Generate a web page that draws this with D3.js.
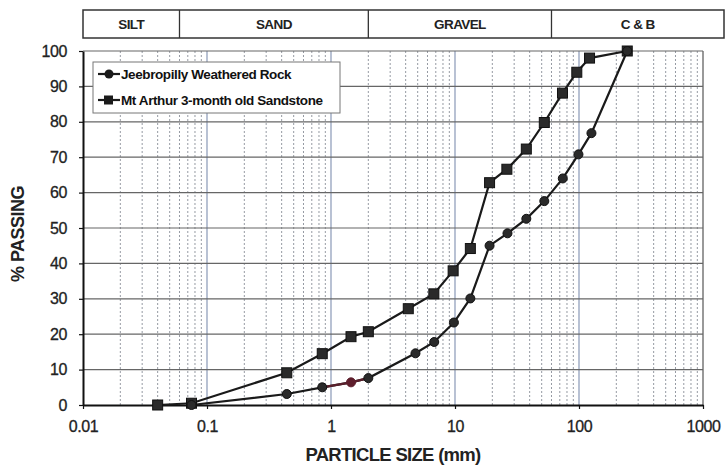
<!DOCTYPE html>
<html>
<head>
<meta charset="utf-8">
<script src="https://cdn.jsdelivr.net/npm/d3@7"></script>
<style>
  body { margin: 0; background: #fff; }
  svg { display: block; font-family: "Liberation Sans", Arial, sans-serif; }
</style>
</head>
<body>
<div id="chart"></div>
<script>
// data
const seriesNames = ["Jeebropilly Weathered Rock", "Mt Arthur 3-month old Sandstone"];
const jeebSize = [0.075, 0.44, 0.85, 1.45, 2.0, 4.8, 6.8, 9.8, 13.3, 19, 26.5, 37.6, 52.5, 74, 99, 126, 245];
const jeebPass = [0, 3.1, 5.0, 6.4, 7.6, 14.6, 17.8, 23.3, 30.1, 45, 48.5, 52.6, 57.6, 64, 70.8, 76.8, 100];
const arthurSize = [0.04, 0.075, 0.44, 0.85, 1.45, 2.0, 4.2, 6.75, 9.66, 13.3, 19.0, 26.2, 37.6, 52.5, 73.6, 96, 121.6, 245];
const arthurPass = [0, 0.5, 9.1, 14.5, 19.3, 20.7, 27.2, 31.4, 37.9, 44.2, 62.8, 66.6, 72.3, 79.8, 88.1, 94.0, 98.0, 100];
const xTicks = [0.01, 0.1, 1, 10, 100, 1000];
const xTickLabels = ["0.01", "0.1", "1", "10", "100", "1000"];
const yTicks = [0, 10, 20, 30, 40, 50, 60, 70, 80, 90, 100];
const bandNames = ["SILT", "SAND", "GRAVEL", "C & B"];
const bandBreaks = [0.06, 2, 60];
const highlightIndex = 3; // the odd maroon point on the Jeebropilly curve

// layout
const W = 726, H = 469;
const plot = { left: 83, right: 703, top: 51, bottom: 405 };
const header = { left: 83, right: 724, top: 10, bottom: 38 };

const svg = d3.select("#chart").append("svg")
    .attr("width", W)
    .attr("height", H);

const x = d3.scaleLog().domain([0.01, 1000]).range([plot.left, plot.right]);
const y = d3.scaleLinear().domain([0, 100]).range([plot.bottom, plot.top]);

// header band
const hdr = svg.append("g");
hdr.append("rect")
    .attr("x", header.left).attr("y", header.top)
    .attr("width", header.right - header.left)
    .attr("height", header.bottom - header.top)
    .attr("fill", "none").attr("stroke", "#333").attr("stroke-width", 1.5);
hdr.selectAll("line.div")
    .data(bandBreaks)
    .enter().append("line")
    .attr("x1", d => x(d)).attr("x2", d => x(d))
    .attr("y1", header.top).attr("y2", header.bottom)
    .attr("stroke", "#333").attr("stroke-width", 1.3);
const edges = [header.left, ...bandBreaks.map(d => x(d)), header.right];
hdr.selectAll("text")
    .data(bandNames)
    .enter().append("text")
    .attr("x", (d, i) => (edges[i] + edges[i + 1]) / 2)
    .attr("y", header.top + 19)
    .attr("text-anchor", "middle")
    .style("font-size", "13.5px")
    .style("font-weight", "bold")
    .style("letter-spacing", "-0.6px")
    .style("fill", "#222")
    .text(d => d);

// grid
const grid = svg.append("g");
const minor = [];
for (let e = -2; e < 3; e++) {
    for (let k = 2; k <= 9; k++) minor.push(k * Math.pow(10, e));
}
grid.selectAll("line.minor")
    .data(minor)
    .enter().append("line")
    .attr("x1", d => x(d)).attr("x2", d => x(d))
    .attr("y1", plot.top).attr("y2", plot.bottom)
    .attr("stroke", "#8a8f99").attr("stroke-width", 0.9)
    .attr("stroke-dasharray", "2,2");
grid.selectAll("line.major")
    .data(xTicks.slice(1, -1))
    .enter().append("line")
    .attr("x1", d => x(d)).attr("x2", d => x(d))
    .attr("y1", plot.top).attr("y2", plot.bottom)
    .attr("stroke", "#7f8fb0").attr("stroke-width", 1.1);
grid.append("line")
    .attr("x1", plot.right).attr("x2", plot.right)
    .attr("y1", plot.top).attr("y2", plot.bottom)
    .attr("stroke", "#555").attr("stroke-width", 1.2);
grid.selectAll("line.h")
    .data(yTicks.slice(1))
    .enter().append("line")
    .attr("x1", plot.left).attr("x2", plot.right)
    .attr("y1", d => y(d)).attr("y2", d => y(d))
    .attr("stroke", "#666").attr("stroke-width", 1.2);

// axes
const xAxis = svg.append("g")
    .attr("transform", `translate(0,${plot.bottom})`)
    .call(d3.axisBottom(x).tickValues(xTicks).tickFormat((d, i) => xTickLabels[i]).tickSize(4).tickSizeOuter(0));
const yAxis = svg.append("g")
    .attr("transform", `translate(${plot.left},0)`)
    .call(d3.axisLeft(y).tickValues(yTicks).tickSize(4).tickSizeOuter(0));
[xAxis, yAxis].forEach(a => {
    a.select(".domain").attr("stroke", "#111").attr("stroke-width", 2);
    a.selectAll(".tick line").attr("stroke", "#111").attr("stroke-width", 1.2);
    a.selectAll(".tick text")
        .style("font-size", "16px")
        .style("font-family", "'Liberation Sans', Arial, sans-serif")
        .style("letter-spacing", "-0.4px")
        .style("fill", "#222")
        .style("stroke", "#222")
        .style("stroke-width", "0.3px");
});
xAxis.selectAll(".tick text").attr("y", 10).attr("dy", "1.05em");
yAxis.selectAll(".tick text").attr("x", -16);

svg.append("text")
    .attr("x", (plot.left + plot.right) / 2)
    .attr("y", 461)
    .attr("text-anchor", "middle")
    .style("font-size", "18.5px").style("font-weight", "bold")
    .style("letter-spacing", "-0.7px")
    .style("fill", "#222")
    .text("PARTICLE SIZE (mm)");
svg.append("text")
    .attr("transform", `translate(24,${(plot.top + plot.bottom) / 2 + 6}) rotate(-90)`)
    .attr("text-anchor", "middle")
    .style("font-size", "18px").style("font-weight", "bold")
    .style("letter-spacing", "-0.5px")
    .style("fill", "#222")
    .text("% PASSING");

// series
const jeeb = jeebSize.map((s, i) => ({ s, p: jeebPass[i] }));
const arthur = arthurSize.map((s, i) => ({ s, p: arthurPass[i] }));
const line = d3.line().x(d => x(d.s)).y(d => y(d.p));

svg.append("path").datum(arthur)
    .attr("d", line).attr("fill", "none")
    .attr("stroke", "#1a1a1a").attr("stroke-width", 2.2);
svg.append("path").datum(jeeb)
    .attr("d", line).attr("fill", "none")
    .attr("stroke", "#1a1a1a").attr("stroke-width", 2.2);
svg.append("path").datum(jeeb.slice(highlightIndex - 1, highlightIndex + 2))
    .attr("d", line).attr("fill", "none")
    .attr("stroke", "#5a1f2b").attr("stroke-width", 2.2);

svg.selectAll("rect.sq")
    .data(arthur)
    .enter().append("rect")
    .attr("x", d => x(d.s) - 5).attr("y", d => y(d.p) - 5)
    .attr("width", 10).attr("height", 10)
    .attr("fill", "#2a2a2a").attr("stroke", "#111").attr("stroke-width", 1);
svg.selectAll("circle.pt")
    .data(jeeb)
    .enter().append("circle")
    .attr("cx", d => x(d.s)).attr("cy", d => y(d.p))
    .attr("r", 4.5)
    .attr("fill", (d, i) => i === highlightIndex ? "#5e1e2c" : "#2a2a2a")
    .attr("stroke", (d, i) => i === highlightIndex ? "#5e1e2c" : "#111");

// legend
const lg = svg.append("g").attr("transform", "translate(93,62)");
lg.append("rect")
    .attr("width", 247).attr("height", 51)
    .attr("fill", "#fff").attr("stroke", "#777").attr("stroke-width", 1);
const rows = lg.selectAll("g.row")
    .data(seriesNames)
    .enter().append("g")
    .attr("transform", (d, i) => `translate(5,${12 + i * 26})`);
rows.append("line")
    .attr("x1", 0).attr("x2", 22)
    .attr("stroke", "#1a1a1a").attr("stroke-width", 2.2);
rows.filter((d, i) => i === 0).append("circle")
    .attr("cx", 11).attr("r", 4.5).attr("fill", "#1a1a1a");
rows.filter((d, i) => i === 1).append("rect")
    .attr("x", 6).attr("y", -4.5).attr("width", 9).attr("height", 9).attr("fill", "#1a1a1a");
rows.append("text")
    .attr("x", 23).attr("dy", "0.35em")
    .style("font-size", "13.5px")
    .style("font-weight", "bold")
    .style("letter-spacing", "-0.4px")
    .style("fill", "#111")
    .text(d => d);
</script>
</body>
</html>
